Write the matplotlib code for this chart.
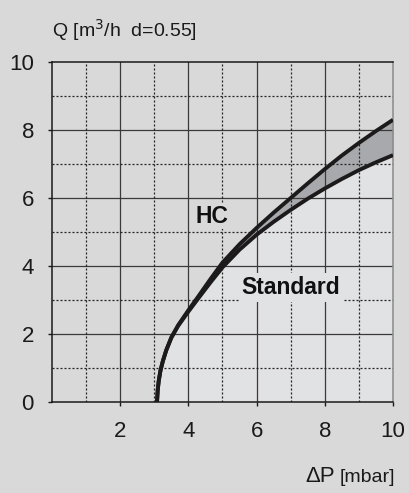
import matplotlib
matplotlib.use("Agg")
import matplotlib.pyplot as plt

# Data
dp_hc = [3.08, 3.10, 3.13, 3.18, 3.25, 3.35, 3.50, 3.70, 4.00, 4.30, 4.65, 5.00, 5.50, 6.00,
         6.50, 7.00, 7.50, 8.00, 8.50, 9.00, 9.50, 10.00]
q_hc = [0.00, 0.35, 0.62, 0.92, 1.20, 1.52, 1.90, 2.26, 2.70, 3.12, 3.62, 4.10, 4.64, 5.12,
        5.57, 6.00, 6.43, 6.85, 7.25, 7.62, 7.97, 8.30]

dp_std = [3.08, 3.10, 3.13, 3.18, 3.25, 3.35, 3.50, 3.70, 4.00, 4.30, 4.65, 5.00, 5.50, 6.00,
          6.50, 7.00, 7.50, 8.00, 8.50, 9.00, 9.50, 10.00]
q_std = [0.00, 0.35, 0.62, 0.92, 1.20, 1.52, 1.89, 2.24, 2.66, 3.06, 3.52, 3.96, 4.48, 4.92,
         5.30, 5.65, 5.98, 6.28, 6.56, 6.82, 7.05, 7.26]

x_ticks = [2, 4, 6, 8, 10]
y_ticks = [0, 2, 4, 6, 8, 10]

bg = "#d9d9d9"
light = "#e1e2e4"
band = "#a8a9ac"
plt.rcParams["font.family"] = ["Liberation Sans", "DejaVu Sans"]

fig = plt.figure(figsize=(4.10, 4.93), dpi=100, facecolor=bg)
ax = fig.add_axes([52/410, 91/493, (393-52)/410, (402-62)/493])
ax.set_facecolor(bg)
ax.set_xlim(0, 10)
ax.set_ylim(0, 10)

# fills
ax.fill_between(dp_std, 0, q_std, color=light, lw=0, zorder=0.5)
ax.fill_between(dp_hc, q_std, q_hc, color=band, lw=0, zorder=0.6)

# grid
for v in [2, 4, 6, 8]:
    ax.axvline(v, color="#3a3a3a", lw=0.9, zorder=1)
    ax.axhline(v, color="#3a3a3a", lw=0.9, zorder=1)
for v in [1, 3, 5, 7, 9]:
    ax.axvline(v, color="#222222", lw=0.9, ls=(0, (1.6, 1.6)), zorder=1)
    ax.axhline(v, color="#222222", lw=0.9, ls=(0, (1.6, 1.6)), zorder=1)

# curves
ax.plot(dp_hc, q_hc, color="#1c1a1b", lw=2.8, zorder=3, solid_capstyle="butt", solid_joinstyle="round")
ax.plot(dp_std, q_std, color="#1c1a1b", lw=2.8, zorder=3, solid_capstyle="butt", solid_joinstyle="round")

for s in ["left", "bottom", "top"]:
    ax.spines[s].set_color("#1a1a1a")
    ax.spines[s].set_linewidth(1.1)
ax.spines["right"].set_color("#8a8a8a")
ax.spines["right"].set_linewidth(1.1)

ax.set_xticks(x_ticks)
ax.set_yticks(y_ticks)
ax.set_xticklabels([str(t) for t in x_ticks])
ax.set_yticklabels([str(t) for t in y_ticks])
ax.tick_params(axis="both", direction="out", length=3, width=1, color="#1a1a1a",
               labelsize=16, labelcolor="#1a1a1a")
ax.tick_params(axis="x", pad=11)
ax.tick_params(axis="y", pad=10)

ax.text(4.2, 5.46, "HC", fontsize=16.5, fontweight="bold", color="#111111", va="center", ha="left",
        zorder=2, bbox=dict(facecolor=bg, edgecolor="none", pad=1))
ax.text(5.55, 3.37, "Standard", fontsize=16.5, fontweight="bold", color="#111111", va="center", ha="left",
        zorder=2, bbox=dict(facecolor=light, edgecolor="none", pad=2))

fig.text(52/410, 1 - 30/493, "Q [m$^3$/h  d=0.55]", fontsize=14, color="#1a1a1a", va="center", ha="left")
fig.text(395/410, 1 - 478/493, "[mbar]", fontsize=14, color="#1a1a1a", va="center", ha="right")
fig.text(335/410, 1 - 476/493, "ΔP", fontsize=16, color="#1a1a1a", va="center", ha="right")

fig.savefig("out.png", dpi=100, facecolor=bg)
